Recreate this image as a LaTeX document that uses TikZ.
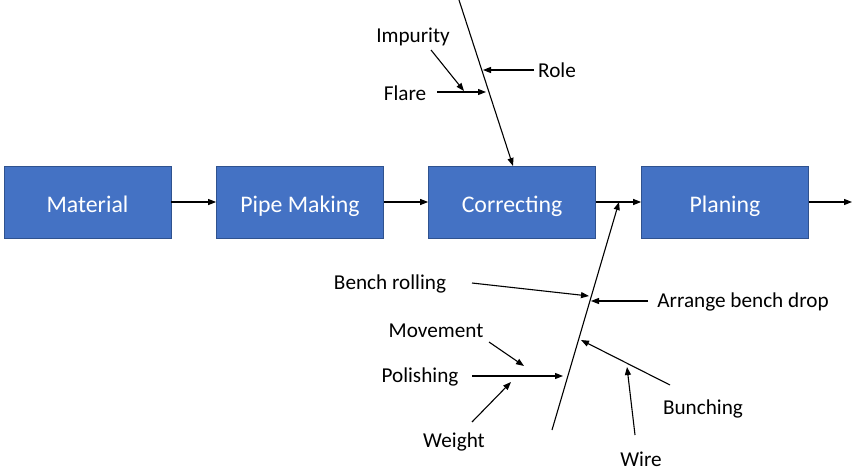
\documentclass[tikz,border=0pt]{standalone}
\usepackage{fontspec}
\setmainfont{Carlito}
\usetikzlibrary{arrows.meta}
\definecolor{boxblue}{HTML}{4472C4}
\definecolor{boxedge}{HTML}{2F528F}
\begin{document}
\begin{tikzpicture}[x=1pt,y=-1pt,
  procbox/.style={draw=boxedge,line width=0.8pt,fill=boxblue,minimum width=167pt,minimum height=72pt,inner sep=0pt,text=white,text height=20pt,text depth=0pt,font=\fontsize{23.8}{26}\selectfont},
  lbl/.style={font=\fontsize{21.2}{24}\selectfont,inner sep=0pt},
  arr/.style={line width=1.1pt,-{Triangle[length=8pt,width=6pt]}},
  spine/.style={line width=1.1pt}]
\useasboundingbox (0,0) rectangle (853,471);
% boxes
\node[procbox] (mat) at (87.5,202) {Material};
\node[procbox] (pipe) at (300,202) {Pipe Making};
\node[procbox] (corr) at (512,202) {Correcting};
\node[procbox] (plan) at (725,202) {Planing};
\coordinate (out) at (852,202);
\draw[arr] (mat) -- (pipe);
\draw[arr] (pipe) -- (corr);
\draw[arr] (corr) -- (plan);
\draw[arr] (plan) -- (out);
% upper spine
\coordinate (utop) at (459,0);
\coordinate (ubot) at (513,166);
\draw[arr] (utop) -- (ubot);
\node[lbl] (impurity) at (413,37) {Impurity};
\node[lbl] (flare) at (405,93) {Flare};
\node[lbl] (role) at (557,70) {Role};
\coordinate (imps) at (431,50);
\coordinate (impe) at (464,91);
\coordinate (flas) at (437,92);
\coordinate (flae) at (486,92);
\coordinate (roles) at (534,70);
\coordinate (rolee) at (483,70);
\draw[arr] (imps) -- (impe);
\draw[arr] (flas) -- (flae);
\draw[arr] (roles) -- (rolee);
% lower spine
\coordinate (lbot) at (552,430);
\coordinate (ltop) at (619,202);
\draw[arr] (lbot) -- (ltop);
\node[lbl] (bench) at (390,284) {Bench rolling};
\node[lbl] (arrange) at (743,302) {Arrange bench drop};
\node[lbl] (movement) at (436,331) {Movement};
\node[lbl] (polishing) at (420,377) {Polishing};
\node[lbl] (weight) at (454,442) {Weight};
\node[lbl] (bunching) at (703,409) {Bunching};
\node[lbl] (wire) at (641,459) {Wire};
\coordinate (bens) at (472,283);
\coordinate (bene) at (589,296);
\coordinate (arrs) at (648,301);
\coordinate (arre) at (591,301);
\coordinate (bus) at (670,385);
\coordinate (bue) at (581,340);
\coordinate (wis) at (635,435);
\coordinate (wie) at (627,367);
\coordinate (pols) at (472,376);
\coordinate (pole) at (563,376);
\coordinate (movs) at (489,342);
\coordinate (move) at (524,366);
\coordinate (weis) at (472,422);
\coordinate (weie) at (511,382);
\draw[arr] (bens) -- (bene);
\draw[arr] (arrs) -- (arre);
\draw[arr] (bus) -- (bue);
\draw[arr] (wis) -- (wie);
\draw[arr] (pols) -- (pole);
\draw[arr] (movs) -- (move);
\draw[arr] (weis) -- (weie);
\end{tikzpicture}
\end{document}
